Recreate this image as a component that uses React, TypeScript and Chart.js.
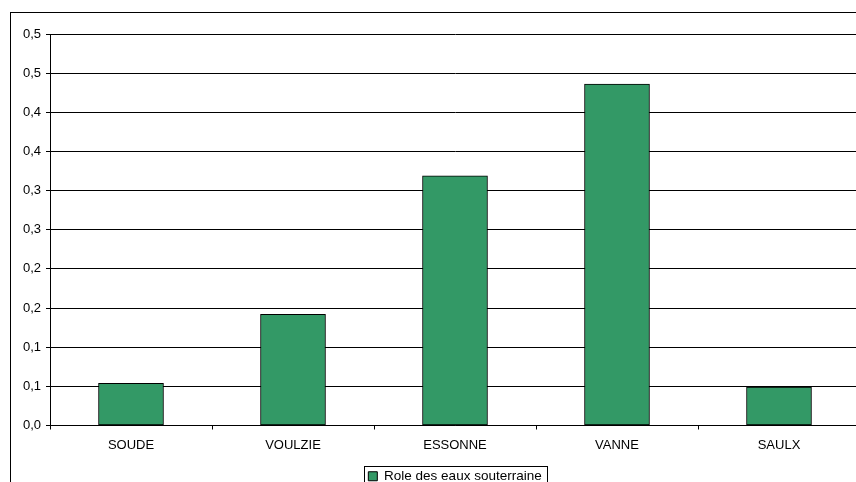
import React, { useEffect, useRef } from "react";
import { Chart, registerables } from "chart.js";

Chart.register(...registerables);

// Stations and the groundwater share measured at each one
const stations: string[] = ["SOUDE", "VOULZIE", "ESSONNE", "VANNE", "SAULX"];
const groundwaterShare: number[] = [0.054, 0.142, 0.319, 0.436, 0.049];
const seriesLabel = "Role des eaux souterraine";

// Axis ticks every 0.05, labelled with one decimal (French format)
const yTickValues: number[] = [0, 0.05, 0.1, 0.15, 0.2, 0.25, 0.3, 0.35, 0.4, 0.45, 0.5];
const yTickLabels: string[] = ["0,0", "0,1", "0,1", "0,2", "0,2", "0,3", "0,3", "0,4", "0,4", "0,5", "0,5"];

const FONT = "'Liberation Sans', Arial, sans-serif";

// Frame around the whole chart plus a border around the legend entry
const framePlugin = {
  id: "frame",
  afterDraw(chart: any) {
    const ctx = chart.ctx;
    ctx.save();
    ctx.strokeStyle = "#000";
    ctx.lineWidth = 1;
    ctx.strokeRect(10.5, 12.5, chart.width + 20, chart.height + 20);
    const boxes = chart.legend && chart.legend.legendHitBoxes;
    if (boxes && boxes.length) {
      const hb = boxes[0];
      const left = Math.round(hb.left - 4) + 0.5;
      const top = Math.round(hb.top - 4) + 0.5;
      const right = Math.round(hb.left + hb.width + 5) + 0.5;
      const bottom = Math.round(hb.top + hb.height + 4) + 0.5;
      ctx.strokeRect(left, top, right - left, bottom - top);
    }
    ctx.restore();
  },
};

export default function App() {
  const canvasRef = useRef<HTMLCanvasElement | null>(null);

  useEffect(() => {
    if (!canvasRef.current) return;
    const chart = new Chart(canvasRef.current, {
      type: "bar",
      data: {
        labels: stations,
        datasets: [
          {
            label: seriesLabel,
            data: groundwaterShare,
            backgroundColor: "#339966",
            borderColor: "#000",
            borderWidth: 1,
            borderSkipped: false,
            barThickness: 65,
          },
        ],
      },
      options: {
        responsive: false,
        animation: false,
        devicePixelRatio: 1,
        layout: { padding: { left: 10, top: 34, right: 10, bottom: 7 } },
        plugins: {
          tooltip: { enabled: false },
          legend: {
            position: "bottom",
            fullSize: false,
            labels: {
              boxWidth: 9,
              boxHeight: 9,
              padding: 4,
              color: "#000",
              font: { family: FONT, size: 13.5 },
              generateLabels: (c: any) =>
                c.data.datasets.map((ds: any, i: number) => ({
                  text: ds.label,
                  fillStyle: ds.backgroundColor,
                  strokeStyle: "#000",
                  lineWidth: 1,
                  hidden: false,
                  datasetIndex: i,
                })),
            },
          },
        },
        scales: {
          x: {
            afterFit: (s: any) => {
              s.height = 40;
            },
            grid: {
              display: true,
              drawOnChartArea: false,
              drawTicks: true,
              tickLength: 4,
              color: "#000",
              offset: true,
            },
            border: { display: true, color: "#000", width: 1 },
            ticks: {
              color: "#000",
              padding: 8,
              maxRotation: 0,
              autoSkip: false,
              font: { family: FONT, size: 13 },
            },
          },
          y: {
            min: 0,
            max: 0.5,
            afterFit: (s: any) => {
              s.width = 40;
            },
            afterBuildTicks: (s: any) => {
              s.ticks = yTickValues.map((v) => ({ value: v }));
            },
            grid: {
              display: true,
              drawOnChartArea: true,
              drawTicks: true,
              tickLength: 4,
              color: "#000",
            },
            border: { display: true, color: "#000", width: 1 },
            ticks: {
              color: "#000",
              padding: 5,
              font: { family: FONT, size: 13 },
              callback: (v: any) => {
                const i = Math.round(Number(v) / 0.05);
                return yTickLabels[i] ?? "";
              },
            },
          },
        },
      },
      plugins: [framePlugin],
    });
    return () => chart.destroy();
  }, []);

  return (
    <div
      style={{
        position: "fixed",
        left: 0,
        top: 0,
        width: 856,
        height: 482,
        overflow: "hidden",
        background: "#fff",
      }}
    >
      <canvas ref={canvasRef} width={870} height={500} style={{ display: "block" }} />
    </div>
  );
}
